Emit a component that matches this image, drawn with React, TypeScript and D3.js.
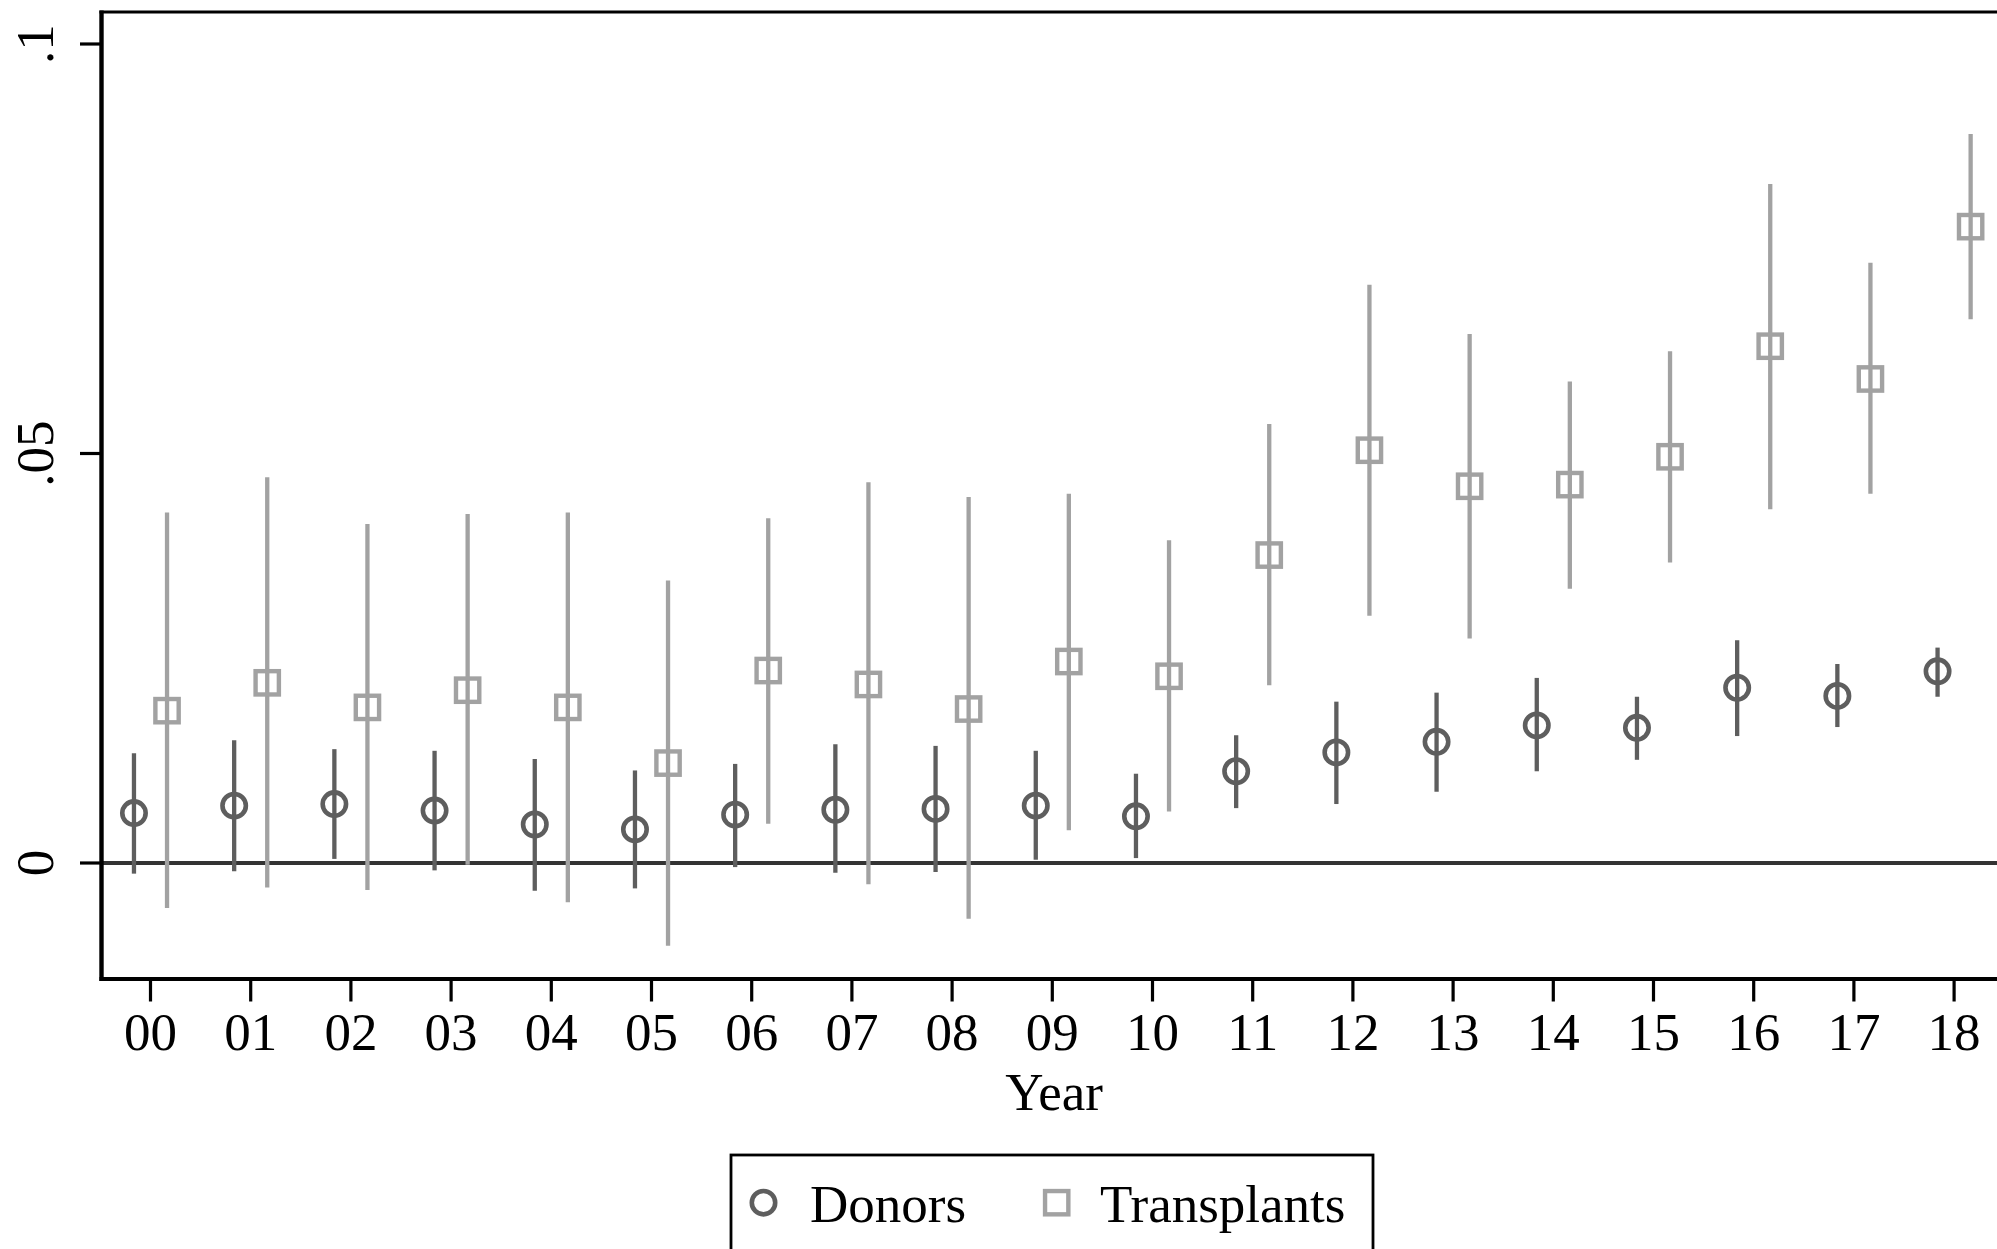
import React from "react";
import * as d3 from "d3";

// Year labels on the x axis
const years: string[] = ["00", "01", "02", "03", "04", "05", "06", "07", "08", "09", "10", "11", "12", "13", "14", "15", "16", "17", "18"];

// Donors: point estimates and confidence bounds
const donorEst: number[] = [0.0061, 0.0070, 0.0072, 0.0064, 0.0047, 0.0041, 0.0059, 0.0065, 0.0066, 0.0070, 0.0057, 0.0112, 0.0135, 0.0148, 0.0168, 0.0165, 0.0214, 0.0204, 0.0234];
const donorLo: number[] = [-0.0013, -0.0010, 0.0005, -0.0009, -0.0034, -0.0031, -0.0005, -0.0012, -0.0011, 0.0004, 0.0006, 0.0067, 0.0072, 0.0087, 0.0112, 0.0126, 0.0155, 0.0166, 0.0203];
const donorHi: number[] = [0.0134, 0.0150, 0.0139, 0.0137, 0.0127, 0.0113, 0.0121, 0.0145, 0.0143, 0.0137, 0.0109, 0.0156, 0.0197, 0.0208, 0.0226, 0.0203, 0.0272, 0.0243, 0.0263];

// Transplants: point estimates and confidence bounds
const transEst: number[] = [0.0186, 0.0220, 0.0190, 0.0211, 0.0190, 0.0122, 0.0235, 0.0218, 0.0188, 0.0246, 0.0228, 0.0376, 0.0504, 0.0460, 0.0462, 0.0496, 0.0631, 0.0591, 0.0777];
const transLo: number[] = [-0.0055, -0.0030, -0.0033, -0.0002, -0.0048, -0.0101, 0.0048, -0.0026, -0.0068, 0.0040, 0.0063, 0.0217, 0.0302, 0.0274, 0.0335, 0.0367, 0.0432, 0.0451, 0.0664];
const transHi: number[] = [0.0428, 0.0471, 0.0414, 0.0426, 0.0428, 0.0345, 0.0421, 0.0465, 0.0447, 0.0451, 0.0394, 0.0536, 0.0706, 0.0646, 0.0588, 0.0625, 0.0829, 0.0733, 0.0890];

// Y axis ticks
const yTicks: number[] = [0, 0.05, 0.1];
const yTickLabels: string[] = ["0", ".05", ".1"];

const W = 1997;
const H = 1249;
const FONT = "'Liberation Serif', 'Times New Roman', serif";
const DONOR_COLOR = "#5e5e5e";
const TRANS_COLOR = "#a2a2a2";

export default function App() {
  const plotLeft = 101.5;
  const plotRight = 2003;
  const plotTop = 12;
  const plotBottom = 979;

  const x = d3.scaleLinear().domain([0, 18]).range([150.5, 1954.1]);
  const y = d3.scaleLinear().domain([0, 0.1]).range([863, 44]);
  const offset = 0.165; // horizontal dodge in years

  const markerR = 11.7;
  const sq = 23.3;

  return (
    <svg
      width={W}
      height={H}
      style={{ position: "absolute", left: 0, top: 0, background: "#fff" }}
      fontFamily={FONT}
    >
      <rect x={0} y={0} width={W} height={H} fill="#fff" />

      {/* reference line at zero */}
      <line x1={plotLeft} x2={plotRight} y1={y(0)} y2={y(0)} stroke="#333" strokeWidth={4} />

      {/* donor confidence intervals */}
      {years.map((yr, i) => (
        <line
          key={"dci" + yr}
          x1={x(i - offset)}
          x2={x(i - offset)}
          y1={y(donorLo[i])}
          y2={y(donorHi[i])}
          stroke={DONOR_COLOR}
          strokeWidth={4.3}
        />
      ))}
      {/* transplant confidence intervals */}
      {years.map((yr, i) => (
        <line
          key={"tci" + yr}
          x1={x(i + offset)}
          x2={x(i + offset)}
          y1={y(transLo[i])}
          y2={y(transHi[i])}
          stroke={TRANS_COLOR}
          strokeWidth={4.3}
        />
      ))}
      {/* donor point estimates */}
      {years.map((yr, i) => (
        <circle
          key={"dp" + yr}
          cx={x(i - offset)}
          cy={y(donorEst[i])}
          r={markerR}
          fill="none"
          stroke={DONOR_COLOR}
          strokeWidth={4.6}
        />
      ))}
      {/* transplant point estimates */}
      {years.map((yr, i) => (
        <rect
          key={"tp" + yr}
          x={x(i + offset) - sq / 2}
          y={y(transEst[i]) - sq / 2}
          width={sq}
          height={sq}
          fill="none"
          stroke={TRANS_COLOR}
          strokeWidth={4.4}
        />
      ))}

      {/* plot frame */}
      <line x1={plotLeft - 2} x2={plotRight} y1={plotTop} y2={plotTop} stroke="#000" strokeWidth={2.8} />
      <line x1={plotLeft} x2={plotLeft} y1={plotTop - 1.4} y2={plotBottom + 2} stroke="#000" strokeWidth={4.4} />
      <line x1={plotLeft - 2} x2={plotRight} y1={plotBottom} y2={plotBottom} stroke="#000" strokeWidth={4.2} />

      {/* y axis ticks and labels */}
      {yTicks.map((t, i) => (
        <g key={"yt" + i}>
          <line x1={80} x2={plotLeft} y1={y(t)} y2={y(t)} stroke="#000" strokeWidth={3.2} />
          <text
            transform={`translate(53, ${y(t)}) rotate(-90)`}
            textAnchor="middle"
            fontSize={53}
            fill="#000"
          >
            {yTickLabels[i]}
          </text>
        </g>
      ))}

      {/* x axis ticks and labels */}
      {years.map((yr, i) => (
        <g key={"xt" + yr}>
          <line x1={x(i)} x2={x(i)} y1={plotBottom} y2={1001.5} stroke="#000" strokeWidth={3.2} />
          <text x={x(i)} y={1050} textAnchor="middle" fontSize={53} fill="#000">
            {yr}
          </text>
        </g>
      ))}

      {/* x axis title */}
      <text x={1054} y={1110} textAnchor="middle" fontSize={53} fill="#000">
        Year
      </text>

      {/* legend */}
      <rect x={731} y={1155} width={642} height={160} fill="none" stroke="#000" strokeWidth={2.8} />
      <circle cx={763.5} cy={1202.7} r={markerR} fill="none" stroke={DONOR_COLOR} strokeWidth={4.6} />
      <text x={810} y={1222} fontSize={53} fill="#000">
        Donors
      </text>
      <rect x={1056.7 - sq / 2} y={1202.7 - sq / 2} width={sq} height={sq} fill="none" stroke={TRANS_COLOR} strokeWidth={4.4} />
      <text x={1100} y={1222} fontSize={53} fill="#000">
        Transplants
      </text>
    </svg>
  );
}
